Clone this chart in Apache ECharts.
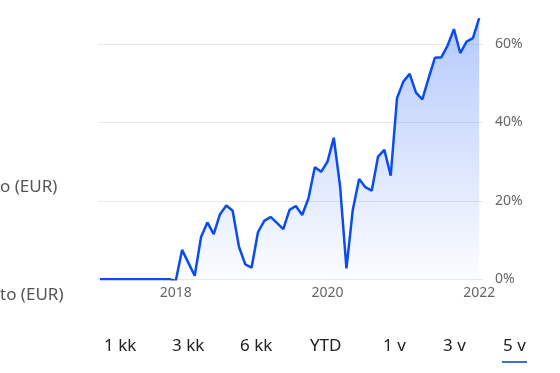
<!DOCTYPE html>
<html>
<head>
<meta charset="utf-8">
<script src="https://cdn.jsdelivr.net/npm/echarts@6/dist/echarts.min.js"></script>
<style>
html,body{margin:0;padding:0;background:#fff;}
#chart{width:560px;height:373px;}
</style>
</head>
<body>
<div id="chart"></div>
<script>
// Monthly index 0 = 2017-01 ... 60 = 2022-01
const months = [];
for (let i = 0; i <= 60; i++) months.push(i);
const returnsPct = [
  0, 0, 0, 0, 0, 0, 0, 0, 0, 0, 0, 0,
  -0.4, 7.5, 4.2, 0.9, 10.8, 14.5, 11.5, 16.6, 18.8, 17.5, 8.3, 3.8,
  3.0, 12.0, 14.9, 15.9, 14.4, 12.8, 17.7, 18.7, 16.4, 20.7, 28.6, 27.4,
  30.0, 36.1, 23.6, 2.8, 17.7, 25.6, 23.5, 22.6, 31.3, 33.0, 26.4, 46.2,
  50.4, 52.4, 47.6, 45.9, 51.3, 56.5, 56.6, 59.6, 63.8, 57.7, 60.6, 61.5,
  66.6
];
const xTickIndex = [12, 36, 60];
const xTickLabels = ['2018', '2020', '2022'];
const yTicks = [0, 20, 40, 60];
const rangeButtons = ['1 kk', '3 kk', '6 kk', 'YTD', '1 v', '3 v', '5 v'];
const sideLabels = ['o (EUR)', 'to (EUR)'];

const chart = echarts.init(document.getElementById('chart'), null, {renderer: 'canvas'});
const btnX = [104, 172, 240, 310, 383, 443, 503];
const graphics = [];
rangeButtons.forEach((t, i) => {
  graphics.push({
    type: 'text', left: btnX[i], top: 338,
    style: {text: t, fill: '#222', font: '17px "Noto Sans", Roboto, sans-serif'}
  });
});
graphics.push({type: 'rect', shape: {x: 502, y: 361, width: 25, height: 2}, style: {fill: '#3b6fe6'}});
graphics.push({type: 'text', left: 0, top: 179, style: {text: sideLabels[0], fill: '#555', font: '17px "Noto Sans", Roboto, sans-serif'}});
graphics.push({type: 'text', left: 0, top: 287, style: {text: sideLabels[1], fill: '#555', font: '17px "Noto Sans", Roboto, sans-serif'}});

chart.setOption({
  animation: false,
  backgroundColor: '#fff',
  grid: {left: 98, right: 77, top: 0, bottom: 93.7},
  xAxis: {
    type: 'value', min: -0.3, max: 60.6,
    axisLine: {show: false}, axisTick: {show: false}, splitLine: {show: false},
    axisLabel: {
      customValues: xTickIndex,
      formatter: v => xTickLabels[xTickIndex.indexOf(v)] || '',
      color: '#666', fontSize: 14, margin: 7,
      fontFamily: '"Noto Sans", Roboto, sans-serif'
    }
  },
  yAxis: {
    type: 'value', position: 'right', min: 0, max: 71.22, interval: 20,
    axisLine: {show: false}, axisTick: {show: false},
    splitLine: {showMaxLine: false, lineStyle: {color: '#e9e9e9', width: 1}},
    axisLabel: {
      showMaxLabel: false,
      formatter: v => yTicks.indexOf(v) >= 0 ? v + '%' : '',
      color: '#666', fontSize: 14, margin: 12,
      fontFamily: '"Noto Sans", Roboto, sans-serif'
    }
  },
  series: [{
    type: 'line',
    data: months.map((m, i) => [m, returnsPct[i]]),
    showSymbol: false,
    lineStyle: {color: '#0a4cf0', width: 2.5},
    areaStyle: {
      origin: 'start',
      color: new echarts.graphic.LinearGradient(0, 0, 0, 1, [
        {offset: 0, color: 'rgba(40,100,245,0.5)'},
        {offset: 1, color: 'rgba(40,100,245,0.02)'}
      ])
    }
  }],
  graphic: graphics
});
</script>
</body>
</html>
